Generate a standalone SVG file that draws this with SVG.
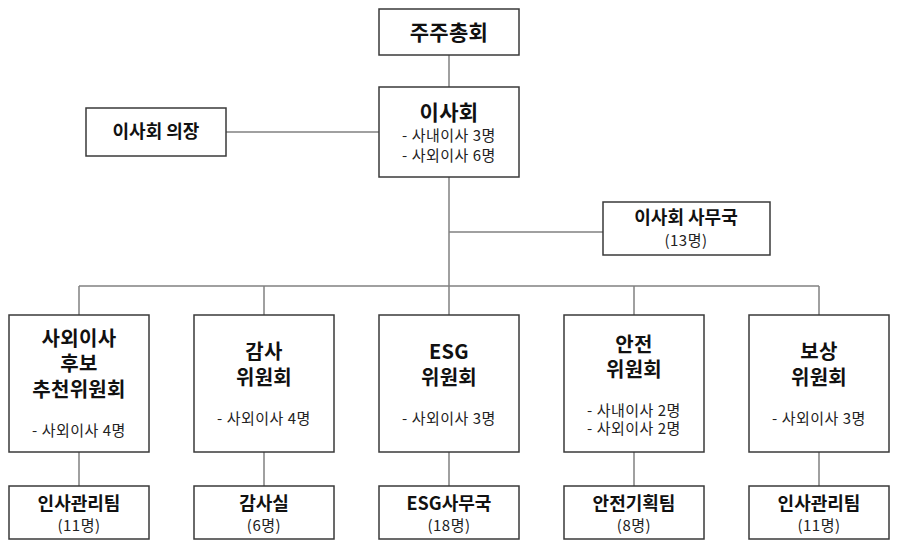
<svg xmlns="http://www.w3.org/2000/svg" width="901" height="550" viewBox="0 0 901 550">
<style>
.box{fill:#fff;stroke:#3a3a3a;stroke-width:1.5}
.ln{stroke:#808080;stroke-width:1.5;fill:none}
text{font-family:"Noto Sans CJK KR","Noto Sans",sans-serif;fill:#111;text-anchor:middle}
.t{font-size:20px;font-weight:bold;letter-spacing:0.3px}
.m{font-size:18px;font-weight:bold}
.s{font-size:15px;font-weight:normal;fill:#222;letter-spacing:0.5px}
</style>
<rect width="901" height="550" fill="#fff"/>
<g id="connectors">
<line class="ln" x1="449" y1="55" x2="449" y2="87"/>
<line class="ln" x1="226" y1="132" x2="379" y2="132"/>
<line class="ln" x1="449" y1="177" x2="449" y2="315"/>
<line class="ln" x1="449" y1="232" x2="603" y2="232"/>
<line class="ln" x1="79" y1="286" x2="819" y2="286"/>
<line class="ln" x1="79" y1="286" x2="79" y2="315"/>
<line class="ln" x1="264" y1="286" x2="264" y2="315"/>
<line class="ln" x1="634" y1="286" x2="634" y2="315"/>
<line class="ln" x1="819" y1="286" x2="819" y2="315"/>
<line class="ln" x1="79" y1="452" x2="79" y2="486"/>
<line class="ln" x1="264" y1="452" x2="264" y2="486"/>
<line class="ln" x1="449" y1="452" x2="449" y2="486"/>
<line class="ln" x1="634" y1="452" x2="634" y2="486"/>
<line class="ln" x1="819" y1="452" x2="819" y2="486"/>
</g>
<g id="shareholders">
<rect class="box" x="379" y="9" width="140" height="46"/>
<text class="t" x="449" y="40" style="font-size:21px">주주총회</text>
</g>
<g id="board">
<rect class="box" x="379" y="87" width="140" height="90"/>
<text class="t" x="449" y="120" style="font-size:21px">이사회</text>
<text class="s" x="449" y="141">- 사내이사 3명</text>
<text class="s" x="449" y="161">- 사외이사 6명</text>
</g>
<g id="chair">
<rect class="box" x="86" y="108" width="140" height="48"/>
<text class="m" x="156" y="138">이사회 의장</text>
</g>
<g id="secretariat">
<rect class="box" x="603" y="202" width="167" height="53"/>
<text class="m" x="686" y="224">이사회 사무국</text>
<text class="s" x="686" y="246">(13명)</text>
</g>
<g id="nomination">
<rect class="box" x="9" y="315" width="140" height="137"/>
<text class="t" x="79" y="346">사외이사</text>
<text class="t" x="79" y="371">후보</text>
<text class="t" x="79" y="397">추천위원회</text>
<text class="s" x="79" y="436">- 사외이사 4명</text>
</g>
<g id="audit">
<rect class="box" x="194" y="315" width="140" height="137"/>
<text class="t" x="264" y="359">감사</text>
<text class="t" x="264" y="385">위원회</text>
<text class="s" x="264" y="424">- 사외이사 4명</text>
</g>
<g id="esg">
<rect class="box" x="379" y="315" width="140" height="137"/>
<text class="t" x="449" y="359">ESG</text>
<text class="t" x="449" y="385">위원회</text>
<text class="s" x="449" y="424">- 사외이사 3명</text>
</g>
<g id="safety">
<rect class="box" x="564" y="315" width="140" height="137"/>
<text class="t" x="634" y="352">안전</text>
<text class="t" x="634" y="377">위원회</text>
<text class="s" x="634" y="416">- 사내이사 2명</text>
<text class="s" x="634" y="434">- 사외이사 2명</text>
</g>
<g id="compensation">
<rect class="box" x="749" y="315" width="140" height="137"/>
<text class="t" x="819" y="359">보상</text>
<text class="t" x="819" y="385">위원회</text>
<text class="s" x="819" y="424">- 사외이사 3명</text>
</g>
<g id="hr1">
<rect class="box" x="9" y="486" width="140" height="53"/>
<text class="m" x="79" y="510">인사관리팀</text>
<text class="s" x="79" y="531">(11명)</text>
</g>
<g id="auditoffice">
<rect class="box" x="194" y="486" width="140" height="53"/>
<text class="m" x="264" y="510">감사실</text>
<text class="s" x="264" y="531">(6명)</text>
</g>
<g id="esgoffice">
<rect class="box" x="379" y="486" width="140" height="53"/>
<text class="m" x="449" y="510">ESG사무국</text>
<text class="s" x="449" y="531">(18명)</text>
</g>
<g id="safetyteam">
<rect class="box" x="564" y="486" width="140" height="53"/>
<text class="m" x="634" y="510">안전기획팀</text>
<text class="s" x="634" y="531">(8명)</text>
</g>
<g id="hr2">
<rect class="box" x="749" y="486" width="140" height="53"/>
<text class="m" x="819" y="510">인사관리팀</text>
<text class="s" x="819" y="531">(11명)</text>
</g>
</svg>
